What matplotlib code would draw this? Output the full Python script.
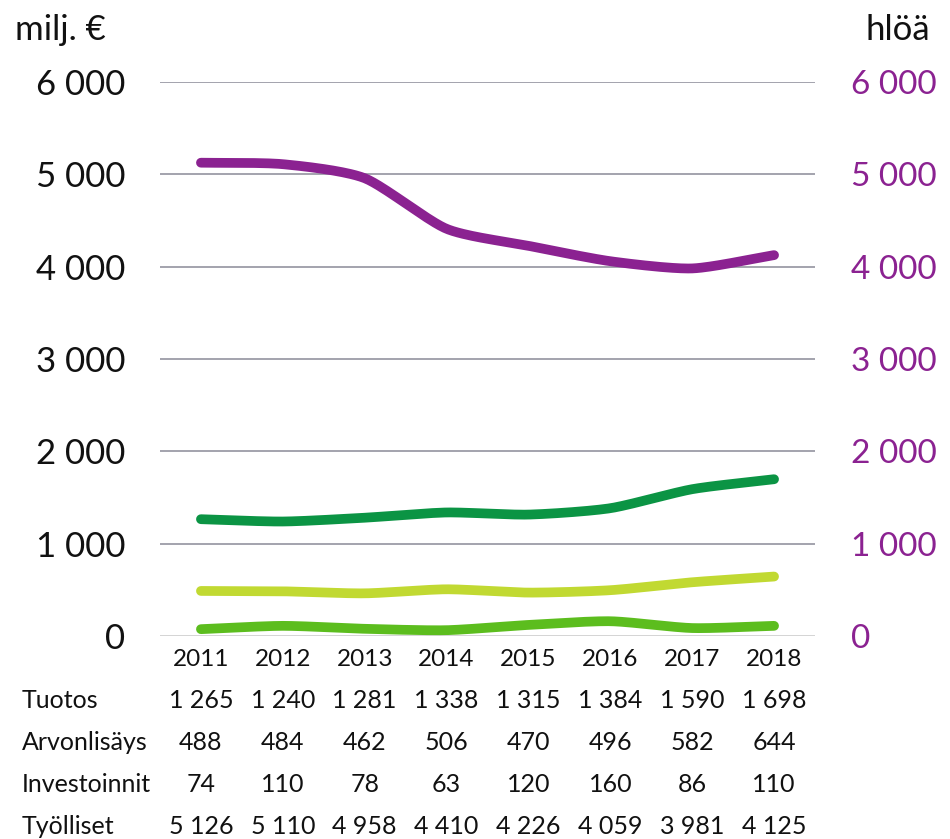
import numpy as np
import matplotlib
matplotlib.use("Agg")
import matplotlib.pyplot as plt
import matplotlib.transforms as mtransforms

years = ["2011", "2012", "2013", "2014", "2015", "2016", "2017", "2018"]
tuotos = [1265, 1240, 1281, 1338, 1315, 1384, 1590, 1698]
arvonlisays = [488, 484, 462, 506, 470, 496, 582, 644]
investoinnit = [74, 110, 78, 63, 120, 160, 86, 110]
tyolliset = [5126, 5110, 4958, 4410, 4226, 4059, 3981, 4125]
row_labels = ["Tuotos", "Arvonlisäys", "Investoinnit", "Työlliset"]
yticks = [0, 1000, 2000, 3000, 4000, 5000, 6000]

plt.rcParams['font.family'] = ['Lato', 'DejaVu Sans']

C_TUOTOS = "#0b9444"
C_ARVO = "#c1d932"
C_INV = "#5cbd1e"
C_TYO = "#8b2291"
TXT = "#111111"


def fmt(v):
    return f"{v:,}".replace(",", " ")


def smooth(x, y, n=30):
    x = np.asarray(x, float)
    y = np.asarray(y, float)
    px = np.concatenate([[2 * x[0] - x[1]], x, [2 * x[-1] - x[-2]]])
    py = np.concatenate([[2 * y[0] - y[1]], y, [2 * y[-1] - y[-2]]])
    xs, ys = [], []
    for i in range(1, len(px) - 2):
        t = np.linspace(0, 1, n, endpoint=(i == len(px) - 3))
        for P, out in ((px, xs), (py, ys)):
            p0, p1, p2, p3 = P[i - 1], P[i], P[i + 1], P[i + 2]
            m1 = (p2 - p0) / 2 * 0.7
            m2 = (p3 - p1) / 2 * 0.7
            h00 = 2 * t**3 - 3 * t**2 + 1
            h10 = t**3 - 2 * t**2 + t
            h01 = -2 * t**3 + 3 * t**2
            h11 = t**3 - t**2
            out.extend(h00 * p1 + h10 * m1 + h01 * p2 + h11 * m2)
    return np.array(xs), np.array(ys)


W, H = 950, 839
fig = plt.figure(figsize=(W / 100, H / 100), dpi=100)
ax = fig.add_axes([160 / W, 1 - 636 / H, 655 / W, (636 - 82) / H])
x = np.arange(len(years))

ax.set_xlim(-0.5, len(years) - 0.5)
ax.set_ylim(0, 6000)
for v in yticks[1:]:
    ax.axhline(v, color="#a3a3ad", lw=1.4, zorder=1)
ax.axhline(0, color="#d4d4d4", lw=1.4, zorder=1)

for series, col in ((tuotos, C_TUOTOS), (arvonlisays, C_ARVO), (investoinnit, C_INV)):
    sx, sy = smooth(x, series)
    ax.plot(sx, sy, color=col, lw=7, solid_capstyle="round", zorder=3)

ax2 = ax.twinx()
ax2.set_ylim(0, 6000)
sx, sy = smooth(x, tyolliset)
ax2.plot(sx, sy, color=C_TYO, lw=7, solid_capstyle="round", zorder=3)

for a in (ax, ax2):
    for s in a.spines.values():
        s.set_visible(False)
    a.set_xticks([])

ax.set_yticks(yticks)
ax.set_yticklabels([fmt(v) for v in yticks], fontsize=25, color=TXT)
ax.tick_params(axis="y", length=0, pad=25)
ax2.set_yticks(yticks)
ax2.set_yticklabels([fmt(v) for v in yticks], fontsize=24, color=C_TYO)
ax2.tick_params(axis="y", length=0, pad=26)

fig.text(15 / W, 1 - 30 / H, "milj. €", fontsize=25, color=TXT, va="center", ha="left")
fig.text(865 / W, 1 - 30 / H, "hlöä", fontsize=25, color=TXT, va="center", ha="left")

trans = mtransforms.blended_transform_factory(ax.transData, fig.transFigure)
for i, yr in enumerate(years):
    ax.text(i, 1 - 660 / H, yr, transform=trans, ha="center", va="center",
            fontsize=17.5, color=TXT)

rows = [tuotos, arvonlisays, investoinnit, tyolliset]
row_y = [700, 742, 785, 827]
for lab, vals, yy in zip(row_labels, rows, row_y):
    fig.text(22 / W, 1 - yy / H, lab, ha="left", va="center", fontsize=18, color=TXT)
    for i, v in enumerate(vals):
        ax.text(i, 1 - yy / H, fmt(v), transform=trans, ha="center", va="center",
                fontsize=18, color=TXT)

fig.savefig("out.png", dpi=100, facecolor="white")
